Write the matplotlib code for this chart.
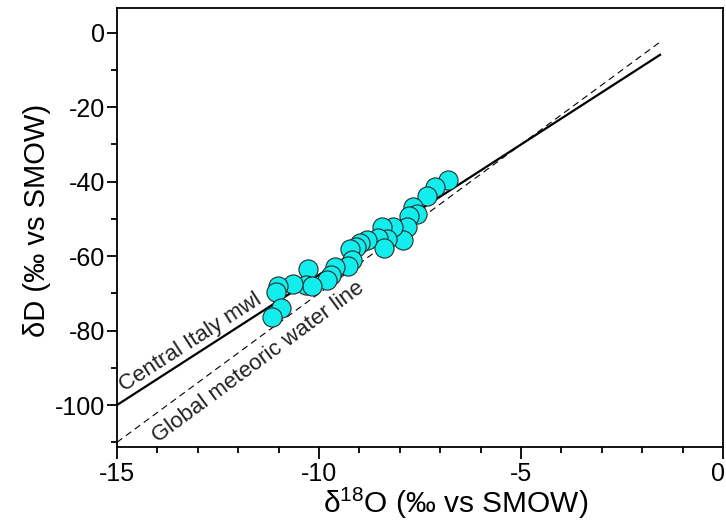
import matplotlib
matplotlib.use("Agg")
import matplotlib.pyplot as plt
import matplotlib.transforms as mtransforms
import numpy as np
from matplotlib.ticker import MultipleLocator

plt.rcParams['font.family'] = ['Liberation Sans', 'DejaVu Sans']
plt.rcParams['mathtext.fontset'] = 'custom'
plt.rcParams['mathtext.rm'] = 'Liberation Sans'
plt.rcParams['axes.unicode_minus'] = False

# data
d18O = [-6.80, -7.13, -7.33, -7.67, -7.58, -7.77, -7.83, -7.93, -8.18, -8.43,
        -8.31, -8.55, -8.39, -8.82, -8.99, -9.09, -9.22, -9.17, -9.29, -9.60,
        -9.69, -9.79, -10.26, -10.32, -10.16, -10.64, -11.01, -11.06, -10.95, -11.15]
dD = [-39.5, -41.3, -43.8, -46.7, -48.7, -49.2, -52.1, -55.6, -52.1, -52.1,
      -55.5, -55.2, -57.9, -55.6, -56.5, -57.6, -58.1, -61.0, -62.6, -62.8,
      -65.0, -66.4, -63.5, -67.7, -68.0, -67.5, -68.0, -69.5, -73.8, -76.3]

line_x = [-15, -1.56]
cimwl_slope, cimwl_int = 7.0, 5.0
gmwl_slope, gmwl_int = 8.0, 10.0

fig = plt.figure(figsize=(7.26, 5.23), dpi=100)
ax = fig.add_axes([0.161, 0.145, 0.835, 0.84])

lx = np.array(line_x)
ax.plot(lx, cimwl_slope * lx + cimwl_int, color='black', lw=1.6, zorder=2)
ax.plot(lx, gmwl_slope * lx + gmwl_int, color='black', lw=0.8,
        dashes=(6, 4), zorder=2)

ax.scatter(d18O, dD, s=190, facecolor='#12EEEE', edgecolor='#2a2a2a',
           linewidth=0.8, zorder=3)

ax.set_xlim(-15, 0)
ax.set_ylim(-111.3, 6.7)

ax.xaxis.set_major_locator(MultipleLocator(5))
ax.xaxis.set_minor_locator(MultipleLocator(1))
ax.yaxis.set_major_locator(MultipleLocator(20))
ax.yaxis.set_minor_locator(MultipleLocator(10))

ax.tick_params(axis='x', which='major', direction='out', length=8.5, width=1.3,
               labelsize=18, pad=2)
ax.tick_params(axis='x', which='minor', direction='out', length=4.3, width=1.3)
ax.tick_params(axis='y', which='major', direction='out', length=7.5, width=1.3,
               labelsize=18, pad=1)
ax.tick_params(axis='y', which='minor', direction='out', length=4, width=1.3)
for s in ax.spines.values():
    s.set_linewidth(1.3)

ax.set_xlabel(r'δ$\mathregular{^{18}}$O (‰ vs SMOW)', fontsize=21.5,
              labelpad=0, x=0.558)
ax.set_ylabel('δD (‰ vs SMOW)', fontsize=21, labelpad=3, y=0.517)

# nudge the last x tick label ("0") slightly left so it stays inside the image
fig.canvas.draw()
last_tick = ax.xaxis.get_major_ticks()[-1]
for t in ax.xaxis.get_major_ticks():
    if abs(t.get_loc() - 0) < 1e-9:
        last_tick = t
last_tick.label1.set_transform(last_tick.label1.get_transform() +
                               mtransforms.ScaledTranslation(-5 / 100, 0, fig.dpi_scale_trans))

# rotation angles in screen space
def screen_angle(slope):
    p1 = ax.transData.transform((-10, slope * -10))
    p2 = ax.transData.transform((-5, slope * -5))
    return np.degrees(np.arctan2(p2[1] - p1[1], p2[0] - p1[0]))

ax.text(-13.17, -83.3, 'Central Italy mwl', fontsize=16, color='#222222',
        rotation=screen_angle(cimwl_slope), rotation_mode='anchor',
        ha='center', va='center')
ax.text(-11.51, -88.4, 'Global meteoric water line', fontsize=16, color='#222222',
        rotation=screen_angle(gmwl_slope), rotation_mode='anchor',
        ha='center', va='center')

fig.savefig('out.png', dpi=100)
